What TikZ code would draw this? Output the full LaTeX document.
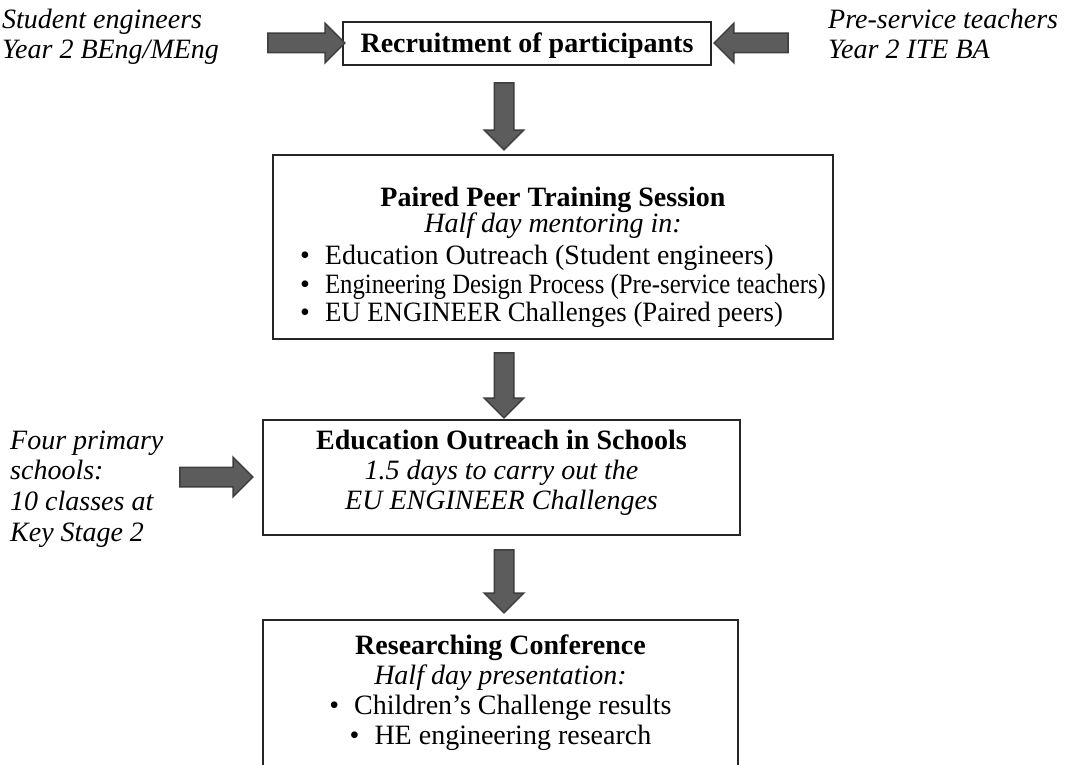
\documentclass[tikz,border=0pt]{standalone}
\usepackage{fontspec}
\setmainfont{Liberation Serif}
\usetikzlibrary{shapes.arrows,positioning}
\definecolor{arrowfill}{RGB}{92,92,92}
\definecolor{arrowline}{RGB}{62,62,62}
\definecolor{boxline}{RGB}{38,38,38}
\tikzset{
  stagebox/.style 2 args={draw=boxline, line width=2pt, minimum width=#1, minimum height=#2, inner sep=0pt},
  blockarrow/.style={single arrow, draw=arrowline, fill=arrowfill, line width=1.5pt,
    inner xsep=0pt, inner ysep=9pt, single arrow head extend=10pt, minimum height=#1},
  txt/.style={inner sep=0pt, font=\fontsize{28}{33}\selectfont},
  note/.style={txt, anchor=base west, font=\fontsize{28}{33}\selectfont\itshape},
}
\begin{document}
\begin{tikzpicture}[x=1pt,y=-1pt]
\useasboundingbox (0,0) rectangle (1074,765);
\clip (0,0) rectangle (1074,765);

% boxes
\node[stagebox={368pt}{43pt}] (recruit) at (527,43.5) {};
\node[stagebox={560pt}{184pt}] (paired) at (553,247) {};
\node[stagebox={477pt}{115pt}] (outreach) at (501.5,477.5) {};
\node[stagebox={475pt}{180pt}] (confer) at (500.5,710) {};

% side notes
\node[note] (engs1) at (2,29) {Student engineers};
\node[note] (engs2) at (2,59) {Year 2 BEng/MEng};
\node[note] (teach1) at (828,29) {Pre-service teachers};
\node[note] (teach2) at (828,59) {Year 2 ITE BA};
\foreach \y/\name/\txt in {449/sch1/Four primary, 479/sch2/schools:,
    510/sch3/10 classes at, 541/sch4/Key Stage 2}
  \node[note] (\name) at (10,\y) {\txt};

% arrows
\node[blockarrow=77pt] (a1) at (301.5,43) {};
\node[blockarrow=74pt, rotate=180] (a2) at (756,43) {};
\node[blockarrow=67pt, rotate=-90] (a3) at (504,111.5) {};
\node[blockarrow=65pt, rotate=-90] (a4) at (504,380.5) {};
\node[blockarrow=73pt] (a5) at (211.5,477) {};
\node[blockarrow=63pt, rotate=-90] (a6) at (504,576.5) {};

% box texts
\node[txt, anchor=base] (recruitT) at (recruit.center |- 0,53) {\bfseries Recruitment of participants};

\node[txt, anchor=base] (pairedT) at (paired.center |- 0,206) {\bfseries Paired Peer Training Session};
\node[txt, anchor=base] (pairedS) at (paired.center |- 0,233) {\itshape Half day mentoring in:};
\node[txt, anchor=base west] (pb1) at (300,264) {\textbullet\hspace{15pt}Education Outreach (Student engineers)};
\node[txt, anchor=base west] (pb2) at (300,293) {\textbullet\hspace{15pt}\scalebox{0.885}[1]{Engineering Design Process (Pre-service teachers)}};
\node[txt, anchor=base west] (pb3) at (300,321) {\textbullet\hspace{15pt}\scalebox{0.956}[1]{EU ENGINEER Challenges (Paired peers)}};

\node[txt, anchor=base] (outreachT) at (outreach.center |- 0,449) {\bfseries Education Outreach in Schools};
\node[txt, anchor=base] (outreachS) at (outreach.center |- 0,479) {\itshape 1.5 days to carry out the};
\node[txt, anchor=base] (outreachU) at (outreach.center |- 0,509) {\itshape EU ENGINEER Challenges};

\node[txt, anchor=base] (conferT) at (confer.center |- 0,654) {\bfseries Researching Conference};
\node[txt, anchor=base] (conferS) at (confer.center |- 0,684) {\itshape Half day presentation:};
\node[txt, anchor=base] (cb1) at (confer.center |- 0,714) {\textbullet\hspace{15pt}Children’s Challenge results};
\node[txt, anchor=base] (cb2) at (confer.center |- 0,744) {\textbullet\hspace{15pt}HE engineering research};
\end{tikzpicture}
\end{document}
